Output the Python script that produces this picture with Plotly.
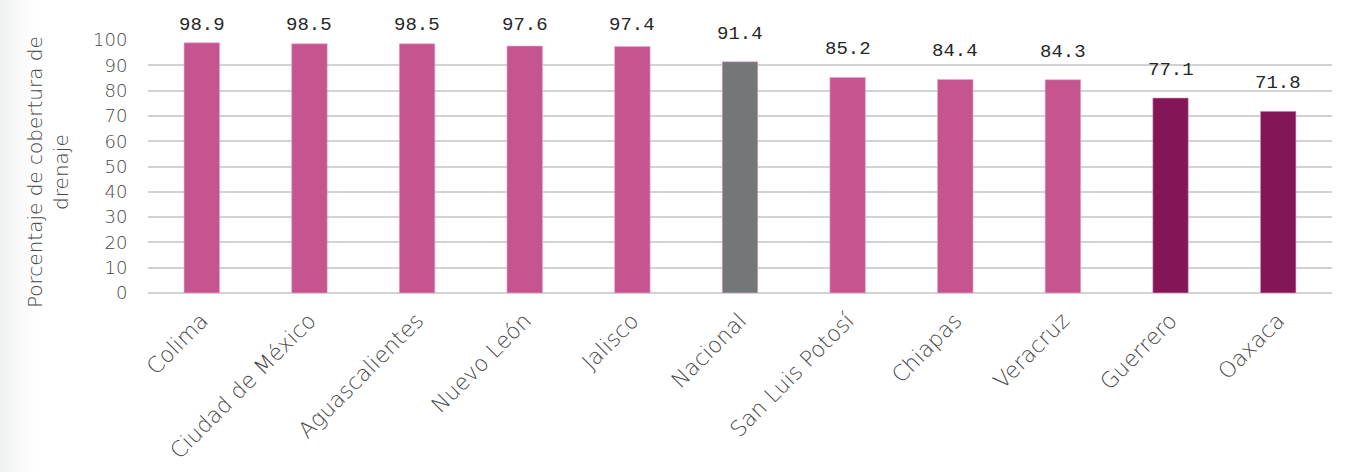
import plotly.graph_objects as go

# Cobertura de drenaje por entidad (%)
estados = ["Colima", "Ciudad de México", "Aguascalientes", "Nuevo León", "Jalisco",
           "Nacional", "San Luis Potosí", "Chiapas", "Veracruz", "Guerrero", "Oaxaca"]
cobertura = [98.9, 98.5, 98.5, 97.6, 97.4, 91.4, 85.2, 84.4, 84.3, 77.1, 71.8]
grupo = ["alto", "alto", "alto", "alto", "alto", "nacional",
         "alto", "alto", "alto", "bajo", "bajo"]
y_ticks = [0, 10, 20, 30, 40, 50, 60, 70, 80, 90, 100]

COLORES = {"alto": "#C6558F", "nacional": "#737778", "bajo": "#831656"}
GRIS_TEXTO = "#474747"
FUENTE = "DejaVu Sans"

W, H = 1349, 472
M_L, M_R, M_T, M_B = 148, 17, 40, 179
plot_w = W - M_L - M_R
plot_h = H - M_T - M_B

fig = go.Figure()
fig.add_trace(go.Bar(
    x=estados,
    y=cobertura,
    width=0.33,
    marker=dict(color=[COLORES[g] for g in grupo],
                line=dict(color="rgba(230,170,205,0.6)", width=1)),
    hoverinfo="x+y",
    cliponaxis=False,
))

# Etiquetas de valor sobre cada barra (limitadas al margen superior)
annotations = []
for est, val in zip(estados, cobertura):
    centro_px = min(val / 100.0 * plot_h + 28, plot_h + M_T - 25)
    annotations.append(dict(
        x=est, y=centro_px / plot_h, xref="x", yref="paper",
        text=f"{val:.1f}",
        showarrow=False, yanchor="middle",
        font=dict(family="Liberation Mono", size=19, color="#262626"),
    ))

# Título del eje Y
annotations.append(dict(
    x=(48 - M_L) / plot_w, y=(H - M_B - 172) / plot_h,
    xref="paper", yref="paper",
    text="Porcentaje de cobertura de<br>drenaje",
    textangle=-90, showarrow=False, xanchor="center", yanchor="middle",
    font=dict(family=FUENTE, size=20, color=GRIS_TEXTO, weight=300),
))

# Degradado gris en el borde izquierdo
shapes = []
n_franjas = 14
ancho_total = 34
for i in range(n_franjas):
    x0 = i * ancho_total / n_franjas
    x1 = (i + 1) * ancho_total / n_franjas
    alpha = 0.11 * (1 - i / n_franjas)
    shapes.append(dict(
        type="rect", xref="paper", yref="paper", layer="below",
        x0=(x0 - M_L) / plot_w, x1=(x1 - M_L) / plot_w,
        y0=-M_B / plot_h, y1=(plot_h + M_T) / plot_h,
        fillcolor=f"rgba(120,130,130,{alpha:.3f})", line=dict(width=0),
    ))

fig.update_layout(
    width=W, height=H,
    margin=dict(l=M_L, r=M_R, t=M_T, b=M_B, autoexpand=False),
    paper_bgcolor="white", plot_bgcolor="white",
    showlegend=False,
    annotations=annotations,
    shapes=shapes,
    font=dict(family=FUENTE, color=GRIS_TEXTO),
)
fig.update_xaxes(
    automargin=False,
    tickangle=-45,
    tickfont=dict(family=FUENTE, size=22, color=GRIS_TEXTO, weight=300),
    showgrid=False, showline=False, zeroline=False,
    ticks="outside", ticklen=5, tickcolor="rgba(0,0,0,0)",
    range=[-0.5, len(estados) - 0.5],
)
fig.update_yaxes(
    automargin=False,
    range=[0, 100],
    tickvals=y_ticks,
    ticktext=[str(t) for t in y_ticks],
    tickfont=dict(family=FUENTE, size=18, color=GRIS_TEXTO, weight=300),
    showgrid=True, gridcolor="#D2D2D2", gridwidth=2,
    zeroline=True, zerolinecolor="#D2D2D2", zerolinewidth=2,
    showline=False,
    ticks="outside", ticklen=16, tickcolor="rgba(0,0,0,0)",
)

fig.write_html("out.html")
